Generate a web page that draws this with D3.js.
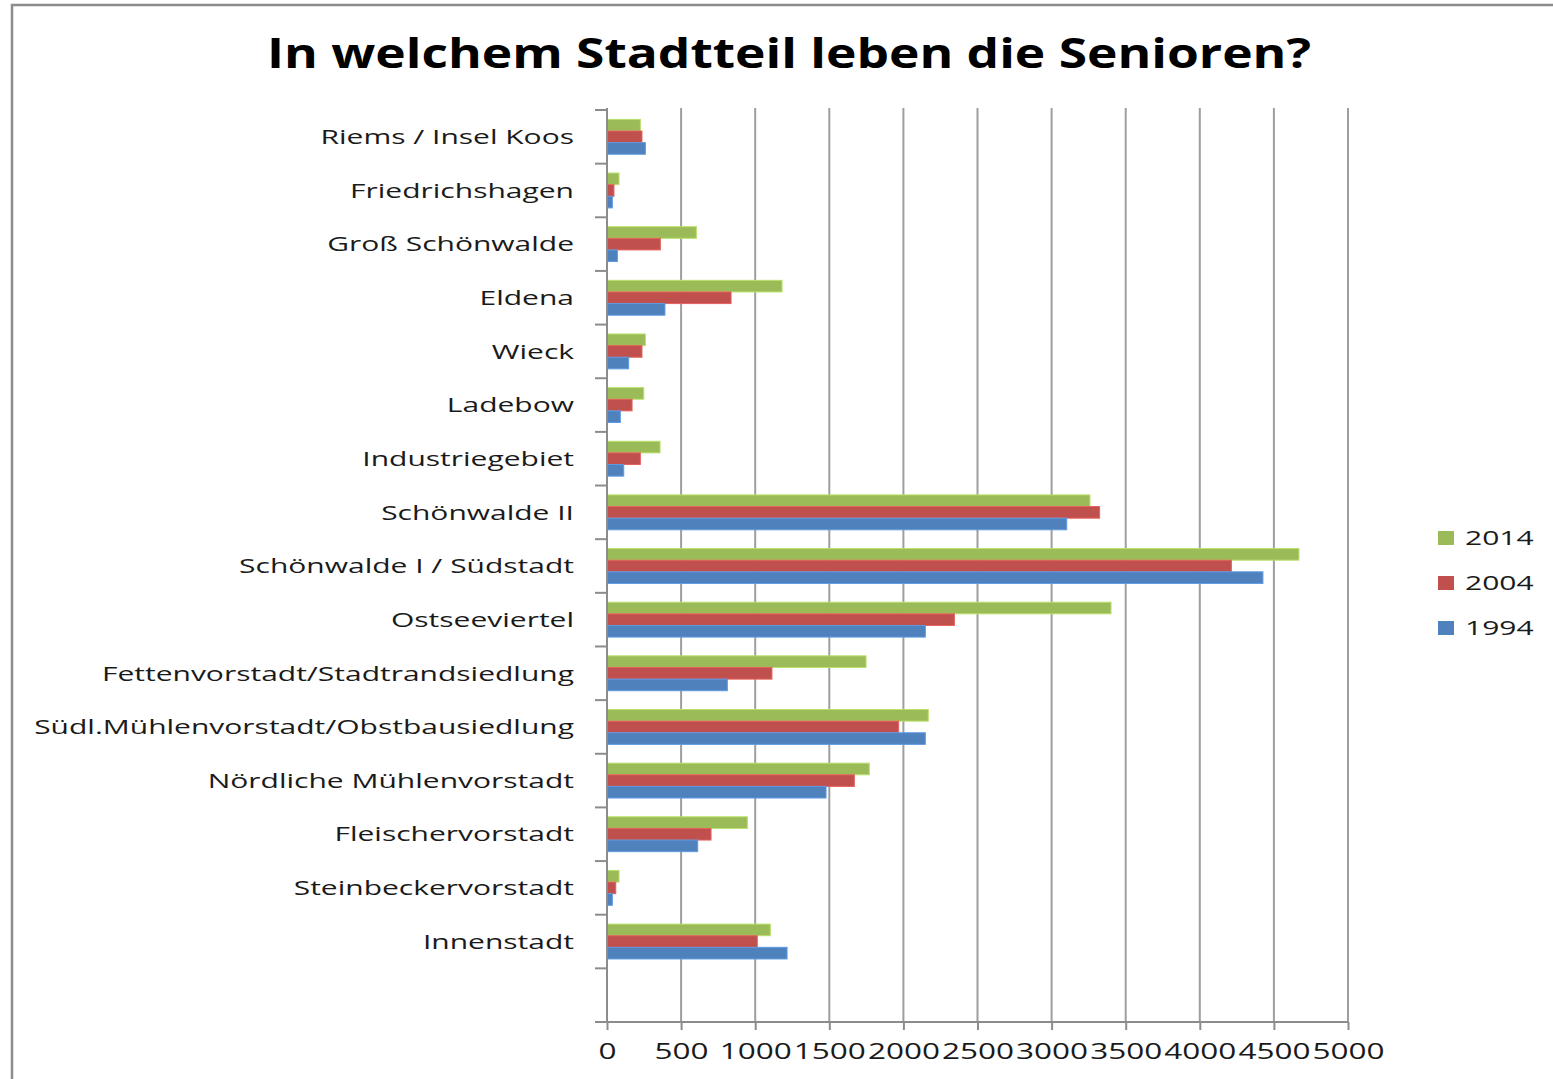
<!DOCTYPE html>
<html>
<head>
<meta charset="utf-8">
<script src="https://cdn.jsdelivr.net/npm/d3@7"></script>
<style>
  body { margin: 0; background: #fff; }
  svg { display: block; }
</style>
</head>
<body>
<script>
//Declare consts
const width = 1553;
const height = 1079;
const font = "'Open Sans', sans-serif";
const stretch = 1.5; // the original picture is stretched sideways

//Data
const categories = ["Riems / Insel Koos", "Friedrichshagen", "Groß Schönwalde", "Eldena", "Wieck",
  "Ladebow", "Industriegebiet", "Schönwalde II", "Schönwalde I / Südstadt", "Ostseeviertel",
  "Fettenvorstadt/Stadtrandsiedlung", "Südl.Mühlenvorstadt/Obstbausiedlung",
  "Nördliche Mühlenvorstadt", "Fleischervorstadt", "Steinbeckervorstadt", "Innenstadt"];
const years = ["2014", "2004", "1994"];
const values2014 = [225, 81, 603, 1181, 259, 248, 358, 3259, 4669, 3401, 1748, 2168, 1770, 947, 81, 1102];
const values2004 = [236, 47, 360, 837, 236, 169, 225, 3324, 4213, 2344, 1113, 1968, 1669, 702, 59, 1014];
const values1994 = [259, 36, 70, 391, 146, 90, 113, 3102, 4426, 2148, 812, 2148, 1478, 612, 36, 1215];
const xTicks = [0, 500, 1000, 1500, 2000, 2500, 3000, 3500, 4000, 4500, 5000];
const colors = ["#9bbb59", "#c0504d", "#4f81bd"];

const series = [values2014, values2004, values1994];
const rows = categories.map((c, i) => ({
  name: c,
  vals: years.map((y, j) => ({ year: y, value: series[j][i] }))
}));

//Scales
// excel leaves one empty slot below the last category
const yScale = d3.scaleBand()
  .domain([...categories, "_empty"])
  .range([110, 1022]);
const inner = yScale.bandwidth() * 0.35 / 2;
const ySub = d3.scaleBand()
  .domain(years)
  .range([inner, yScale.bandwidth() - inner]);
const xScale = d3.scaleLinear()
  .domain([0, 5000])
  .range([607, 1348]);
const color = d3.scaleOrdinal().domain(years).range(colors);

const svg = d3.select("body").append("svg")
  .attr("width", width)
  .attr("height", height);

//outer frame
svg.append("rect")
  .attr("x", 12).attr("y", 5)
  .attr("width", width).attr("height", height)
  .attr("fill", "none")
  .attr("stroke", "#8c8c8c")
  .attr("stroke-width", 2.5);

//Title
svg.append("text")
  .attr("x", 789).attr("y", 68)
  .attr("text-anchor", "middle")
  .attr("font-family", font)
  .attr("font-weight", 700)
  .attr("font-size", 42)
  .attr("textLength", 1044)
  .attr("lengthAdjust", "spacingAndGlyphs")
  .attr("fill", "#000")
  .text("In welchem Stadtteil leben die Senioren?");

//Gridlines
svg.append("g")
  .selectAll("line")
  .data(xTicks.filter(t => t > 0))
  .join("line")
  .attr("x1", d => xScale(d)).attr("x2", d => xScale(d))
  .attr("y1", 108).attr("y2", 1022)
  .attr("stroke", "#9e9e9e")
  .attr("stroke-width", 2);

//Bars
const groups = svg.append("g")
  .selectAll("g")
  .data(rows)
  .join("g")
  .attr("transform", d => "translate(0," + yScale(d.name) + ")");

groups.selectAll("rect")
  .data(d => d.vals)
  .join("rect")
  .attr("x", xScale(0))
  .attr("y", d => ySub(d.year))
  .attr("width", d => xScale(d.value) - xScale(0))
  .attr("height", ySub.bandwidth())
  .attr("fill", d => color(d.year))
  .attr("stroke", d => d3.color(color(d.year)).brighter(0.5))
  .attr("stroke-width", 1);

//Left axis (ticks between categories)
const bounds = yScale.domain().map(c => yScale(c)).concat([yScale.range()[1]]);
svg.append("g")
  .selectAll("line")
  .data(bounds)
  .join("line")
  .attr("x1", 595).attr("x2", xScale(0))
  .attr("y1", d => d).attr("y2", d => d)
  .attr("stroke", "#8c8c8c")
  .attr("stroke-width", 2);
svg.append("line")
  .attr("x1", xScale(0)).attr("x2", xScale(0))
  .attr("y1", 108).attr("y2", 1022)
  .attr("stroke", "#8c8c8c")
  .attr("stroke-width", 2);

//category labels
svg.append("g")
  .selectAll("text")
  .data(categories)
  .join("text")
  .attr("transform", d => "translate(574," + (yScale(d) + yScale.bandwidth() / 2) + ") scale(" + stretch + ",1)")
  .attr("dy", "0.36em")
  .attr("text-anchor", "end")
  .attr("font-family", font)
  .attr("font-size", 20)
  .attr("fill", "#1a1a1a")
  .text(d => d);

//Bottom axis
const bottomAxis = d3.axisBottom(xScale)
  .tickValues(xTicks)
  .tickFormat(d3.format("d"))
  .tickSize(8)
  .tickPadding(14)
  .tickSizeOuter(0);
const xAxis = svg.append("g")
  .attr("transform", "translate(0,1022)")
  .call(bottomAxis);
xAxis.select(".domain")
  .attr("d", "M595,0H" + xScale(5000))
  .attr("stroke", "#8c8c8c")
  .attr("stroke-width", 2);
xAxis.selectAll(".tick line")
  .attr("stroke", "#8c8c8c")
  .attr("stroke-width", 2);
xAxis.selectAll(".tick text")
  .attr("font-family", font)
  .attr("font-size", 21)
  .attr("fill", "#1a1a1a")
  .attr("transform", "scale(" + stretch + ",1)");

//Legend
const legend = svg.append("g")
  .selectAll("g")
  .data(years)
  .join("g")
  .attr("transform", (d, i) => "translate(1438," + (538 + i * 45) + ")");
legend.append("rect")
  .attr("x", 0).attr("y", -7)
  .attr("width", 16).attr("height", 14)
  .attr("fill", d => color(d));
legend.append("text")
  .attr("transform", "translate(27,0) scale(" + stretch + ",1)")
  .attr("dy", "0.36em")
  .attr("font-family", font)
  .attr("font-size", 20)
  .attr("fill", "#1a1a1a")
  .text(d => d);
</script>
</body>
</html>
